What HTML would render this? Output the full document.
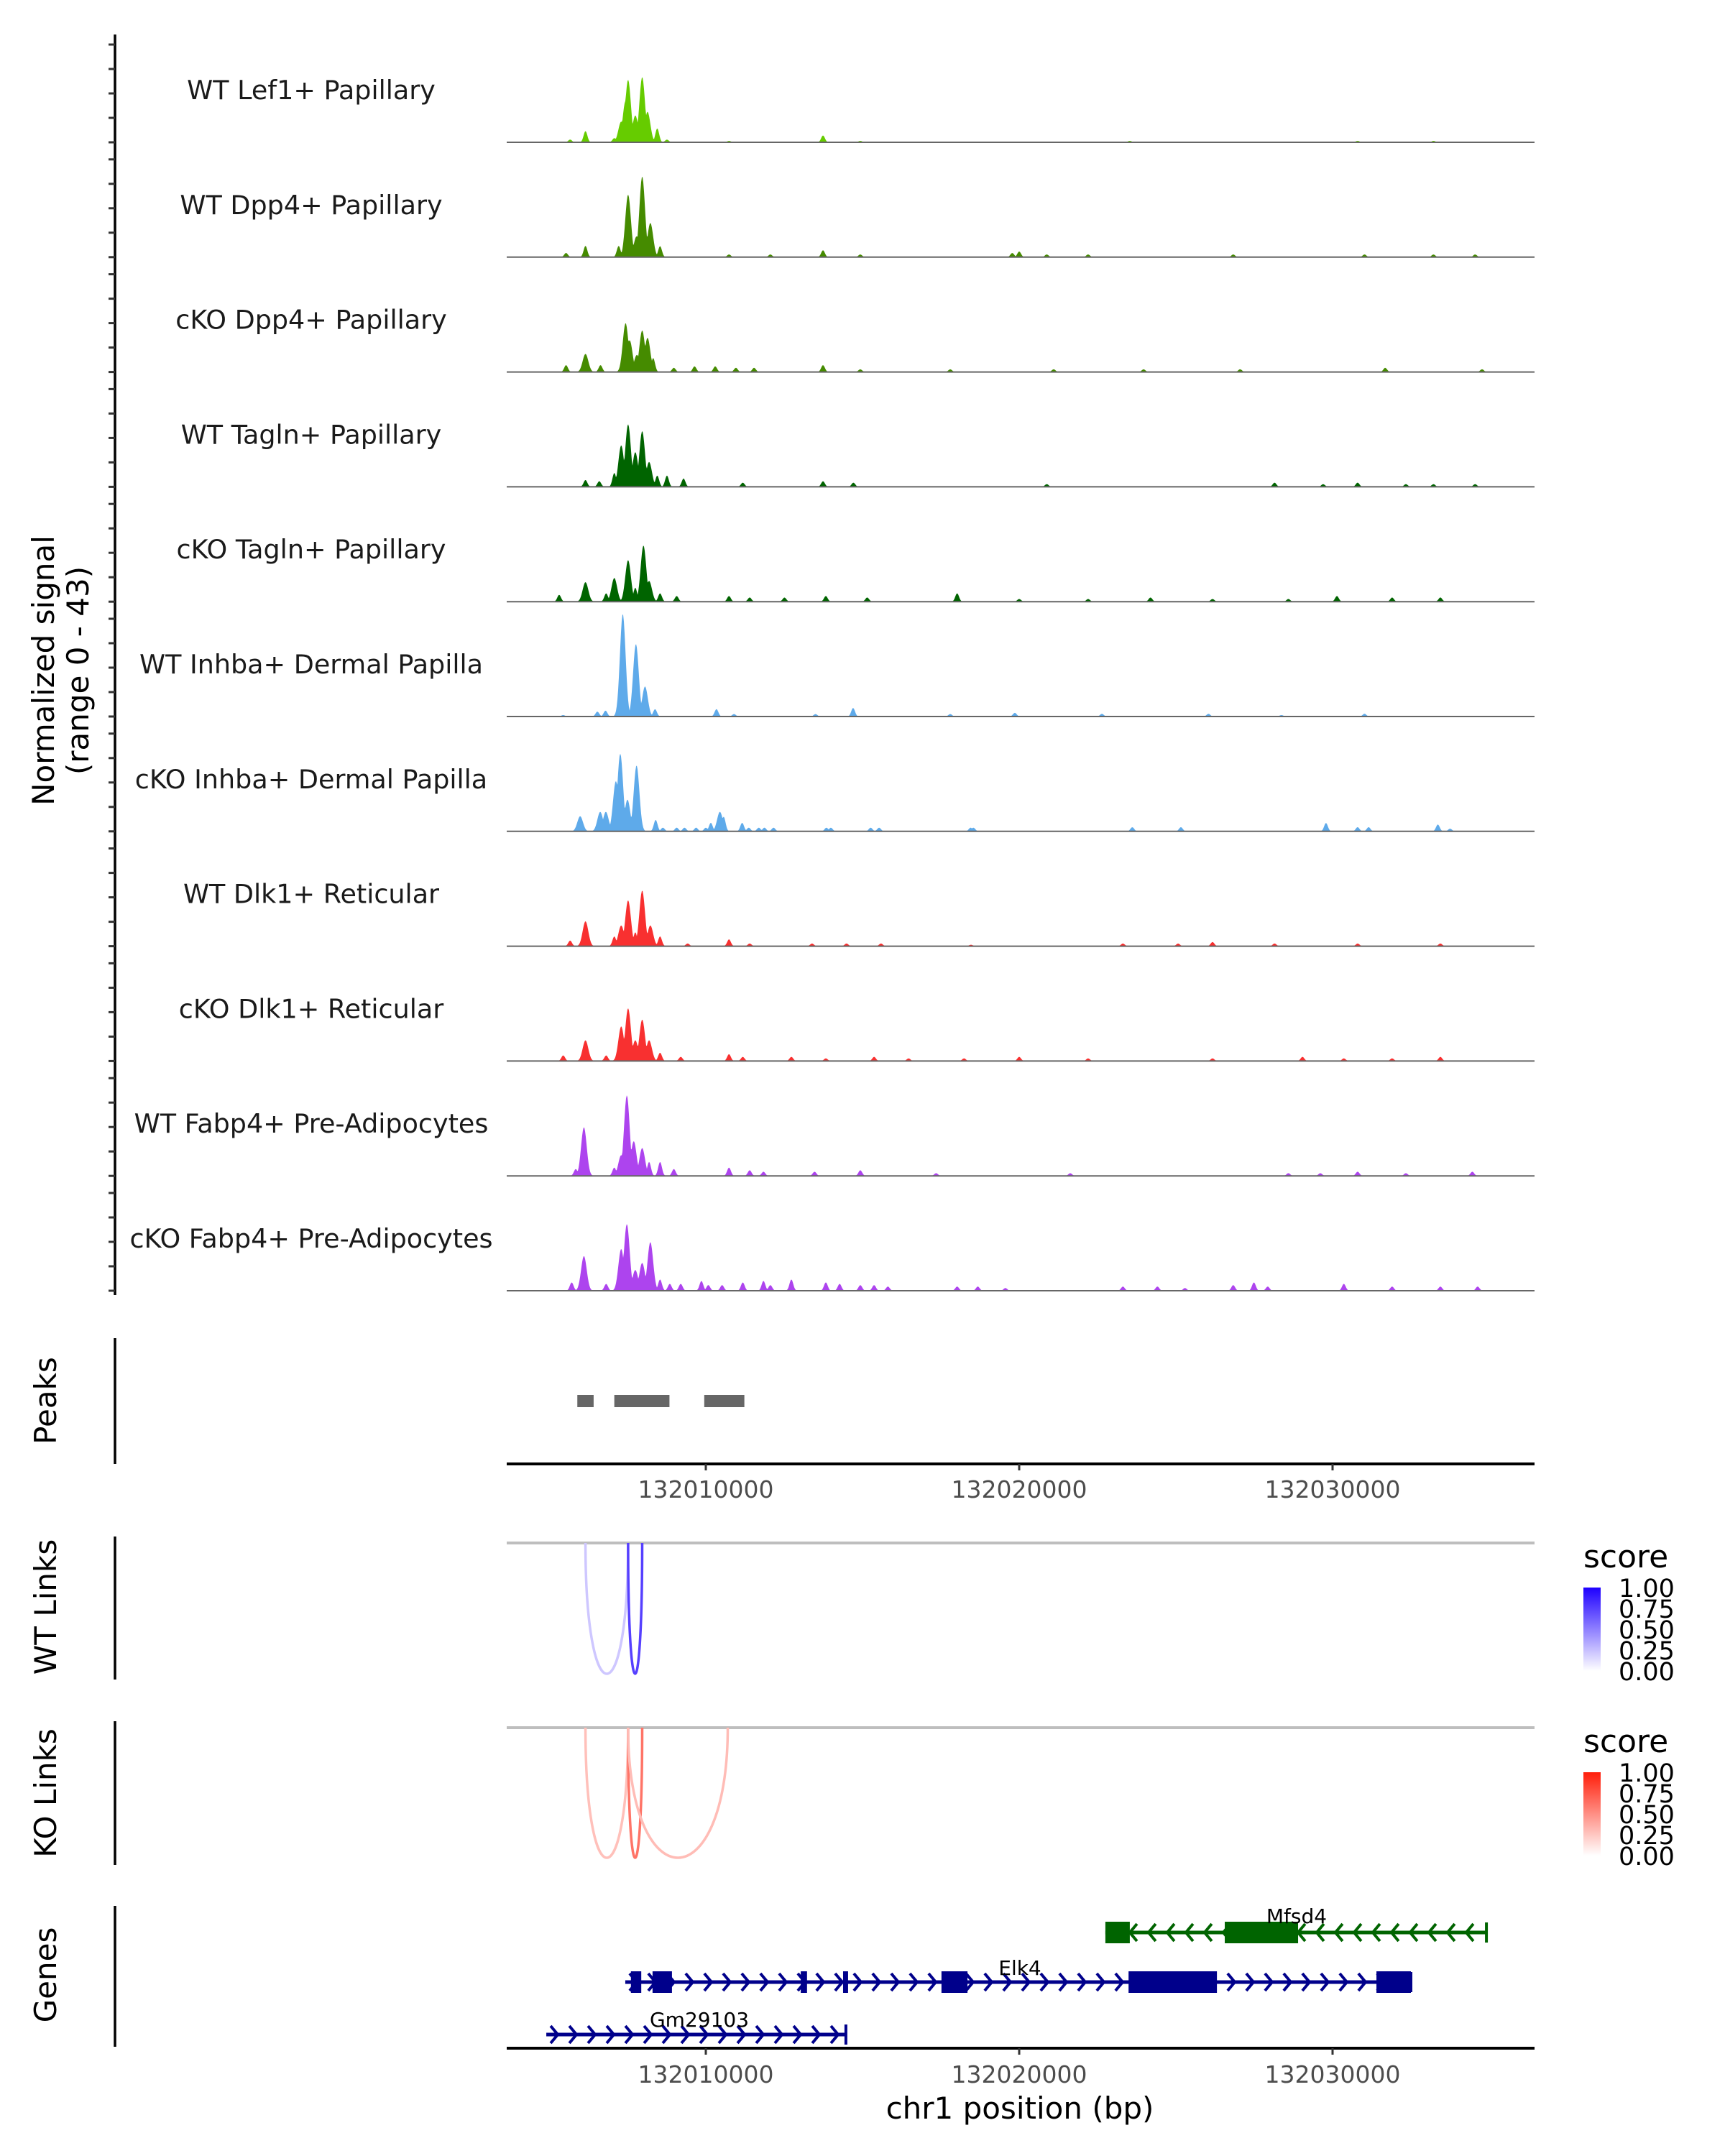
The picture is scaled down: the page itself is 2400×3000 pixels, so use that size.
<!DOCTYPE html>
<html><head><meta charset="utf-8"><style>
html,body{margin:0;padding:0;background:#fff;}
svg{display:block;font-family:"DejaVu Sans","Liberation Sans",sans-serif;}
</style></head><body>
<svg id="chart" xmlns="http://www.w3.org/2000/svg" width="2400" height="3000" viewBox="0 0 2400 3000">
<rect width="2400" height="3000" fill="#fff"/>
<g id="tracks"></g>
<g id="lower"></g>
</svg>
<script>
// ---- data (positions in kb relative to chr1:132,000,000; signal 0-43) ----
const trackNames = ["WT Lef1+ Papillary","WT Dpp4+ Papillary","cKO Dpp4+ Papillary","WT Tagln+ Papillary","cKO Tagln+ Papillary","WT Inhba+ Dermal Papilla","cKO Inhba+ Dermal Papilla","WT Dlk1+ Reticular","cKO Dlk1+ Reticular","WT Fabp4+ Pre-Adipocytes","cKO Fabp4+ Pre-Adipocytes"];
const trackColors = ["#66cc00","#458b00","#458b00","#006400","#006400","#5eaaea","#5eaaea","#f83030","#f83030","#ad44ee","#ad44ee"];
const peakPos = [
 [5.67,6.16,7.08,7.30,7.44,7.52,7.75,7.80,7.97,8.14,8.45,8.76,10.74,13.74,14.93,23.53,30.80,33.22],
 [5.54,6.16,7.22,7.52,7.79,7.80,7.97,8.23,8.54,10.74,12.06,13.74,14.93,19.78,20.00,20.88,22.20,26.83,31.02,33.22,34.55],
 [5.54,6.16,6.64,7.44,7.57,7.80,7.97,8.14,8.32,8.98,9.64,10.30,10.96,11.54,13.74,14.93,17.80,21.10,23.97,27.05,31.68,34.77],
 [6.16,6.60,7.08,7.30,7.52,7.75,7.97,8.19,8.45,8.76,9.29,11.18,13.74,14.71,20.88,28.15,29.70,30.80,32.34,33.22,34.55],
 [5.32,6.16,6.82,7.08,7.52,7.75,8.01,8.19,8.54,9.07,10.74,11.40,12.51,13.83,15.15,18.02,20.00,22.20,24.19,26.17,28.59,30.14,31.90,33.44],
 [5.45,6.54,6.80,7.35,7.77,8.06,8.38,10.34,10.90,13.50,14.70,17.80,19.86,22.64,26.04,28.37,31.02],
 [5.99,6.63,6.81,7.13,7.27,7.50,7.79,8.40,8.63,9.07,9.32,9.69,10.00,10.16,10.45,10.57,11.16,11.37,11.69,11.87,12.16,13.85,13.99,15.26,15.53,18.45,18.54,23.61,25.16,29.79,30.80,31.15,33.36,33.75],
 [5.67,6.16,7.08,7.30,7.52,7.75,7.97,8.23,8.54,9.42,10.74,11.40,13.39,14.49,15.59,18.46,23.31,25.07,26.17,28.15,30.80,33.44],
 [5.45,6.16,6.82,7.30,7.52,7.75,7.97,8.19,8.54,9.20,10.74,11.18,12.73,13.83,15.37,16.47,18.24,20.00,22.20,26.17,29.04,30.36,31.90,33.44],
 [5.85,6.11,7.08,7.30,7.48,7.70,7.97,8.19,8.54,8.98,10.74,11.40,11.84,13.47,14.93,17.35,21.63,28.59,29.61,30.80,32.34,34.46],
 [5.72,6.11,6.82,7.30,7.48,7.75,7.97,8.23,8.54,8.85,9.20,9.86,10.08,10.52,11.18,11.84,12.06,12.73,13.83,14.27,14.93,15.37,15.81,18.02,18.68,19.56,23.31,24.41,25.29,26.83,27.49,27.93,30.36,31.90,33.44,34.63]
];
const peakVal = [
 [1.1,4.6,1.7,8.5,17,25.6,11,6,26.7,12.5,5.7,1.1,0.6,2.8,0.6,0.6,0.6,0.6],
 [1.7,4.6,4.6,25.6,8.5,6,33,14,4.5,1.1,1.1,2.8,1.1,1.7,2.3,1.1,1.1,1.1,1.1,1.1,1.1],
 [2.8,7.4,2.8,20,13,7,17,14,5.7,1.7,2.3,2.3,1.7,1.7,2.8,1.1,1.1,1.1,1.1,1.1,1.7,1.1],
 [2.8,2.3,5.7,17,25.6,14.2,22.8,10.2,4.6,4.6,3.4,1.7,2.3,1.7,1.1,1.7,1.1,1.7,1.1,1.1,1.1],
 [2.8,8,3.4,9.7,17,5.7,23,8.5,3.4,2.3,2.3,1.7,1.7,2.3,1.7,3.4,1.1,1.1,1.7,1.1,1.1,2.3,1.7,1.7],
 [0.6,2,2.4,42,29.7,12.3,3,3,1,1,3.5,1,1.5,1.1,1.1,0.6,1.1],
 [6.2,8,8,20.6,31.8,13,27,4.7,1.5,1.5,1.5,1.5,1.5,3.5,8,6,3.5,1.5,1.5,1.5,1.5,1.5,1.5,1.5,1.5,1.5,1.5,1.7,1.7,3.4,1.7,1.7,2.8,1.1],
 [2.3,10.2,4,8.5,18.8,5.7,22.8,8.5,4,1.1,2.8,1.1,1.1,1.1,1.1,0.6,1.1,1.1,1.7,1.1,1.1,1.1],
 [2.3,8.5,2.3,14.2,21.6,8.5,17,8.5,3.4,1.7,2.8,1.7,1.7,1.1,1.7,1.1,1.1,1.7,1.1,1.1,1.7,1.1,1.1,1.7],
 [2.8,19.9,3.4,8.5,33,14.2,11.4,5.7,5.7,2.8,3.4,2.3,1.7,1.7,2.3,1.1,1.1,1.1,1.1,1.7,1.1,1.7],
 [3.4,14.2,2.8,17.1,27.3,8.5,11.4,19.9,4.6,2.8,2.8,4,2.3,2.3,3.4,4,2.3,4.6,3.4,2.8,2.3,2.3,1.7,1.7,1.7,1.1,1.7,1.7,1.1,2.3,3.4,1.7,2.8,1.7,1.7,1.7]
];
const xTicks = [10,20,30];
const xTickLabels = ["132010000","132020000","132030000"];
const peakStarts = [5.90,7.08,9.95];
const peakEnds = [6.42,8.84,11.23];
const wtLinkStart = [6.16,7.52];
const wtLinkEnd = [7.52,7.97];
const wtLinkScore = [0.22,0.75];
const koLinkStart = [6.16,7.52,7.52];
const koLinkEnd = [7.52,7.97,10.70];
const koLinkScore = [0.28,0.62,0.3];
const legendTicks = ["1.00","0.75","0.50","0.25","0.00"];
const geneNames = ["Mfsd4","Elk4","Gm29103"];
const geneStart = [22.75,7.43,4.91];
const geneEnd = [34.91,32.50,14.47];
const geneStrand = [-1,1,1];
const geneExonStarts = [[22.75,26.56],[7.61,8.30,13.03,14.38,17.52,23.49,31.40],[]];
const geneExonEnds = [[23.53,28.90],[7.94,8.92,13.23,14.54,18.35,26.31,32.50],[]];

// ---- layout ----
const NS="http://www.w3.org/2000/svg";
const X0=705, X1=2135;
function xs(kb){return 982+(kb-10)*43.6;}
function xinv(px){return 10+(px-982)/43.6;}
const base0=198, step=159.8, unit=3.4;
function el(tag,attrs,parent,text){const e=document.createElementNS(NS,tag);for(const k in attrs)e.setAttribute(k,attrs[k]);if(text!==undefined)e.textContent=text;parent.appendChild(e);return e;}
const tracks=document.getElementById('tracks');
const lower=document.getElementById('lower');

// left axis
const ax=el('line',{x1:160,y1:48,x2:160,y2:1802,stroke:'#000','stroke-width':3.5},tracks);


const yt=el('text',{transform:'translate(87,933) rotate(-90)','text-anchor':'middle','font-size':42,fill:'#000'},tracks);


el('tspan',{x:0,dy:-12},yt,'Normalized signal');
el('tspan',{x:0,dy:48},yt,'(range 0 - 43)');

trackNames.forEach((name,i)=>{
  const b=base0+i*step;
  const g=el('g',{},tracks);
  
  
  for(let k=0;k<5;k++){
    const t=el('line',{x1:151,x2:160,y1:b-k*10*unit,y2:b-k*10*unit,stroke:'#333','stroke-width':3},g);
    
    
  }
  const lab=el('text',{x:433,y:b-60,'text-anchor':'middle','font-size':36.5,fill:'#1a1a1a'},g,name);
  
  
  const pos=peakPos[i], val=peakVal[i];
  let d='M'+X0+','+b;
  for(let px=X0;px<=X1;px+=1){
    const kb=xinv(px); let v=0;
    for(let j=0;j<pos.length;j++){
      const sg=val[j]>6?0.09:0.06;
      const dd=(kb-pos[j])/sg; if(Math.abs(dd)<4){const w=val[j]*Math.exp(-dd*dd/2); if(w>v)v=w;}
    }
    d+=' L'+px+','+(b-v*unit).toFixed(1);
  }
  d+=' L'+X1+','+b+' Z';
  const a=el('path',{d:d,fill:trackColors[i]},g);
  
  
  const bl=el('line',{x1:X0,x2:X1,y1:b,y2:b,stroke:'#666','stroke-width':2},g);
  
  
});

// side labels
function sideLabel(txt,cy,y1,y2,nm){
  const t=el('text',{transform:'translate(78,'+cy+') rotate(-90)','text-anchor':'middle','font-size':42,fill:'#000'},lower,txt);
  
  
  const l=el('line',{x1:160,x2:160,y1:y1,y2:y2,stroke:'#000','stroke-width':3.5},lower);
  
  
}
sideLabel('Peaks',1949,1862,2037,'peaks');
sideLabel('WT Links',2236,2138,2337,'wt-links');
sideLabel('KO Links',2495,2395,2595,'ko-links');
sideLabel('Genes',2748,2652,2848,'genes');

// peaks
peakStarts.forEach((s,i)=>{
  const r=el('rect',{x:xs(s),y:1941,width:xs(peakEnds[i])-xs(s),height:17,fill:'#666'},lower);
  
  
});
function xAxis(y,lblY,nm){
  const l=el('line',{x1:X0,x2:X1,y1:y,y2:y,stroke:'#000','stroke-width':4},lower);
  
  
  xTicks.forEach((t,i)=>{
    const tk=el('line',{x1:xs(t),x2:xs(t),y1:y,y2:y+9,stroke:'#333','stroke-width':3},lower);
    
    
    const tl=el('text',{x:xs(t),y:lblY,'text-anchor':'middle','font-size':33,fill:'#4d4d4d'},lower,xTickLabels[i]);
    
    
  });
}
xAxis(2037,2084,'peaks-x-axis');

// links
function mix(c,s){return 'rgb('+c.map(v=>Math.round(255+(v-255)*s)).join(',')+')';}
function links(top,bottom,st,en,sc,col,nm){
  const gl=el('line',{x1:X0,x2:X1,y1:top,y2:top,stroke:'#bebebe','stroke-width':4},lower);
  
  
  st.forEach((s,i)=>{
    const a=xs(s), b=xs(en[i]), cy=top+(bottom-top)*4/3;
    const p=el('path',{d:'M'+a+','+top+' C'+a+','+cy+' '+b+','+cy+' '+b+','+top,fill:'none',stroke:mix(col,sc[i]),'stroke-width':3.5},lower);
    
    
  });
}
const blue=[30,0,255], red=[255,30,10];
links(2147,2329,wtLinkStart,wtLinkEnd,wtLinkScore,blue,'wt-link');
links(2404,2585,koLinkStart,koLinkEnd,koLinkScore,red,'ko-link');

// legends
function legend(y0,col,id,nm){
  const t=el('text',{x:2203,y:y0,'font-size':44,fill:'#000'},lower,'score');
  
  
  const defs=el('defs',{},lower);
  const lg=el('linearGradient',{id:id,x1:0,y1:1,x2:0,y2:0},defs);
  el('stop',{offset:0,'stop-color':'#fff'},lg);
  el('stop',{offset:1,'stop-color':mix(col,1)},lg);
  const bar=el('rect',{x:2203,y:y0+28,width:24,height:116,fill:'url(#'+id+')'},lower);
  
  
  legendTicks.forEach((s,i)=>{
    const yy=y0+29+i*29;
    const tx=el('text',{x:2252,y:yy+12,'font-size':35,fill:'#000'},lower,s);
    
    
  });
}
legend(2181,blue,'gb','wt');
legend(2438,red,'gr','ko');

// genes
const geneY=[2689,2758,2831], geneCol=['#006400','#00008b','#00008b'];
const labelPos=[[1804,2676],[1419,2748],[973,2820]];
geneNames.forEach((nm,i)=>{
  const g=el('g',{},lower);
  
  
  const y=geneY[i], c=geneCol[i], a=xs(geneStart[i]), b=xs(geneEnd[i]);
  el('line',{x1:a,x2:b,y1:y,y2:y,stroke:c,'stroke-width':5},g);
  for(let x=a+12;x<b-4;x+=26){
    const s=geneStrand[i];
    el('polyline',{points:(x-6*s)+','+(y-12)+' '+(x+4*s)+','+y+' '+(x-6*s)+','+(y+12),fill:'none',stroke:c,'stroke-width':4},g);
  }
  el('line',{x1:b,x2:b,y1:y-14,y2:y+14,stroke:c,'stroke-width':4},g);
  geneExonStarts[i].forEach((s,j)=>{
    el('rect',{x:xs(s),y:y-15,width:Math.max(5,xs(geneExonEnds[i][j])-xs(s)),height:30,fill:c},g);
  });
  const t=el('text',{x:labelPos[i][0],y:labelPos[i][1],'text-anchor':'middle','font-size':28,fill:'#000'},g,nm);
  
  
});
xAxis(2850,2898,'genes-x-axis');
const xt=el('text',{x:1419,y:2948,'text-anchor':'middle','font-size':42,fill:'#000'},lower,'chr1 position (bp)');


</script>
</body></html>
